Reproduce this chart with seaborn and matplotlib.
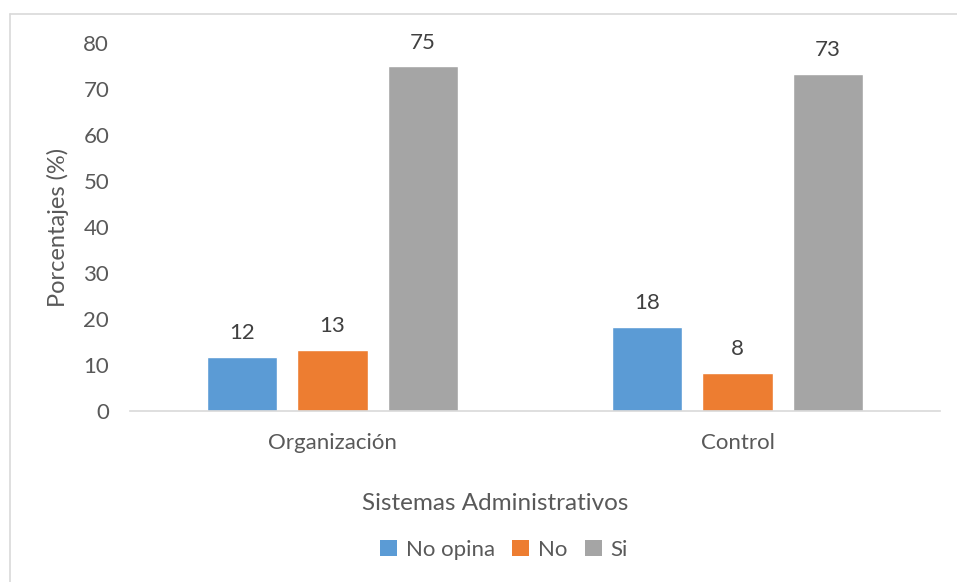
import matplotlib
matplotlib.use("Agg")
import matplotlib.pyplot as plt
import seaborn as sns
import pandas as pd
from matplotlib.lines import Line2D
from matplotlib.patches import Patch

categories = ["Organización", "Control"]
series_names = ["No opina", "No", "Si"]
no_opina = [11.8, 18.3]
no = [13.3, 8.3]
si = [74.9, 73.3]
colors = ["#5B9BD5", "#ED7D31", "#A5A5A5"]

rows = []
for name, vals in zip(series_names, [no_opina, no, si]):
    for c, v in zip(categories, vals):
        rows.append({"Sistema": c, "Respuesta": name, "Valor": v})
df = pd.DataFrame(rows)

sns.set_theme(style="white")
plt.rcParams["font.family"] = ["Lato", "DejaVu Sans"]

fig = plt.figure(figsize=(9.57, 5.82), dpi=100)
ax = fig.add_axes([130/957, 1-411/582, 810/957, 368/582])

sns.barplot(data=df, x="Sistema", y="Valor", hue="Respuesta", order=categories,
            hue_order=series_names, palette=colors, width=0.667, gap=0.222,
            saturation=1, ax=ax, legend=False)

ax.set_ylim(0, 80)
ax.set_xlim(-0.5, 1.5)
ax.set_yticks(range(0, 81, 10))
for s in ["top", "right", "left"]:
    ax.spines[s].set_visible(False)
ax.spines["bottom"].set_color("#D9D9D9")
ax.spines["bottom"].set_linewidth(1.2)
ax.tick_params(axis="y", length=0, pad=15, labelsize=16, labelcolor="#595959")
ax.tick_params(axis="x", length=0, pad=16, labelsize=16, labelcolor="#595959")
ax.set_xlabel("")
ax.set_ylabel("Porcentajes (%)", fontsize=17, color="#595959", labelpad=10)
ax.grid(False)

for cont in ax.containers:
    ax.bar_label(cont, fmt="%.0f", padding=10, fontsize=16, color="#404040")

fig.text(495/957, 1-503/582, "Sistemas Administrativos", ha="center", va="center",
         fontsize=17.5, color="#595959")

handles = [Patch(facecolor=c, edgecolor="none") for c in colors]
fig.legend(handles, series_names, loc="center", bbox_to_anchor=(504/957, 1-550/582),
           ncol=3, frameon=False, fontsize=16, handlelength=0.75, handleheight=0.75,
           handletextpad=0.4, columnspacing=0.8, labelcolor="#595959")

fig.add_artist(Line2D([9.5/957, 1.0], [1-13.5/582, 1-13.5/582], transform=fig.transFigure,
                      color="#D9D9D9", lw=1.2))
fig.add_artist(Line2D([9.5/957, 9.5/957], [1-13.5/582, 0], transform=fig.transFigure,
                      color="#D9D9D9", lw=1.2))

fig.savefig("out.png", dpi=100, facecolor="white")
